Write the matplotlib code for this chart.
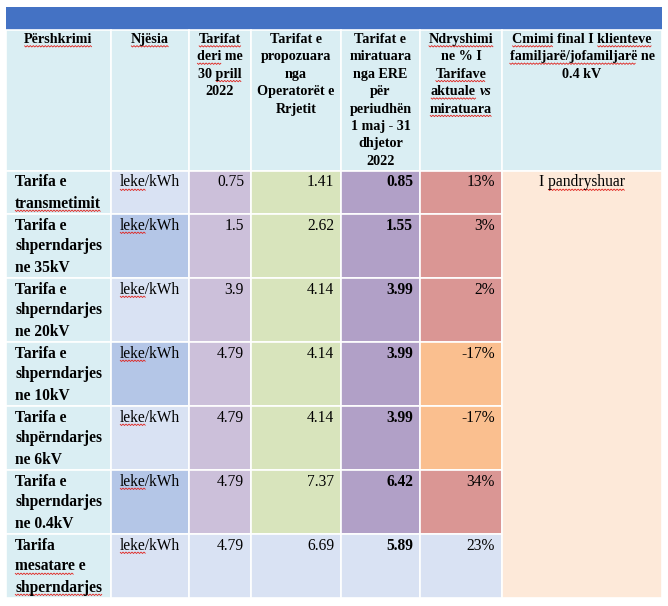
import matplotlib
matplotlib.use("Agg")
import matplotlib.pyplot as plt
from matplotlib.patches import Rectangle
from matplotlib.font_manager import FontProperties
import numpy as np

# ~word~ = spell-check squiggle, _word_ = italic
headers = [
    "~Përshkrimi~",
    "~Njësia~",
    "~Tarifat~\n~deri~ me\n30 ~prill~\n2022",
    "Tarifat e\npropozuara\nnga\nOperatorët e\nRrjetit",
    "Tarifat e\nmiratuara\nnga ERE\npër\nperiudhën\n1 maj - 31\ndhjetor\n2022",
    "~Ndryshimi~\nne % I\n~Tarifave~\n~aktuale~ _vs_\n~miratuara~",
    "~Cmimi~ final I ~klienteve~\n~familjarë/jofamiljarë~ ne\n0.4 kV",
]
descriptions = [
    "Tarifa e\n~transmetimit~",
    "Tarifa e\nshperndarjes\nne 35kV",
    "Tarifa e\nshperndarjes\nne 20kV",
    "Tarifa e\nshperndarjes\nne 10kV",
    "Tarifa e\nshpërndarjes\nne 6kV",
    "Tarifa e\nshperndarjes\nne 0.4kV",
    "Tarifa\n~mesatare~ e\n~shperndarjes~",
]
units = ["~leke~/kWh"] * 7
tarifa_deri_prill = [0.75, 1.5, 3.9, 4.79, 4.79, 4.79, 4.79]
tarifa_propozuar = [1.41, 2.62, 4.14, 4.14, 4.14, 7.37, 6.69]
tarifa_miratuar = [0.85, 1.55, 3.99, 3.99, 3.99, 6.42, 5.89]
ndryshimi = [13, 3, 2, -17, -17, 34, 23]
cmimi_final = "I ~pandryshuar~"

# layout (pixels)
W, H = 668, 606
col_x = [6, 111, 189, 251, 341, 420, 502, 662]
row_y = [30, 171, 214, 278, 342, 406, 470, 534, 598]
bar = (7, 29.5)

c_head = "#DAEEF3"
c_unit = ["#D9E2F3", "#B4C6E7"]
c_avg = "#D9E2F3"
c_old = "#CCC0DA"
c_prop = "#D8E4BC"
c_appr = "#B1A0C7"
c_up = "#DA9694"
c_down = "#FABF8F"
c_final = "#FDE9D9"

fig = plt.figure(figsize=(W / 100, H / 100), dpi=100)
ax = fig.add_axes([0, 0, 1, 1])
ax.set_xlim(0, W)
ax.set_ylim(H, 0)
ax.axis("off")
renderer = fig.canvas.get_renderer()

FAM = "Liberation Serif"


def fprop(size, bold, italic=False):
    return FontProperties(family=FAM, size=size, weight="bold" if bold else "normal",
                          style="italic" if italic else "normal")


def width(s, fp):
    if not s.strip():
        return 0.0
    return renderer.get_text_width_height_descent(s, fp, ismath=False)[0]


def offset_of(prefix, part, fp):
    # ink position of `part` when it follows `prefix` on the same line
    if not prefix:
        return 0.0
    return width(prefix + part, fp) - width(part, fp)


def wavy(a, b, y):
    xs = np.arange(a, b + 0.01, 1.5)
    ys = y + np.where(np.arange(len(xs)) % 2 == 0, 0.0, 1.4)
    ax.plot(xs, ys, color="#E0201B", lw=0.6, solid_capstyle="butt")


def put_line(x, y, line, ha, size, bold):
    fp = fprop(size, bold)
    tail = None
    words = line.split(" ")
    if words[-1].startswith("_") and words[-1].endswith("_"):
        tail = words[-1].strip("_")
        line = " ".join(words[:-1]) + " "
    clean, spans = "", []
    for k, p in enumerate(line.split("~")):
        if k % 2 == 1:
            spans.append((len(clean), p))
        clean += p
    total = width(clean, fp)
    if tail:
        fp_i = fprop(size, bold, True)
        tail_x = offset_of(clean, tail, fp)
        total = tail_x + width(tail, fp_i)
    x0 = {"left": x, "center": x - total / 2, "right": x - total}[ha]
    ax.text(x0, y, clean.rstrip(), ha="left", va="baseline", fontproperties=fp, color="black")
    if tail:
        ax.text(x0 + tail_x, y, tail, ha="left", va="baseline",
                fontproperties=fp_i, color="black")
    for start, part in spans:
        a = x0 + offset_of(clean[:start], part, fp)
        wavy(a, a + width(part, fp), y + 2.6)


def put_cell(x, y, text, ha, size, bold, step):
    for k, line in enumerate(text.split("\n")):
        put_line(x, y + k * step, line, ha, size, bold)


def cell(c, r0, r1, color):
    ax.add_patch(Rectangle((col_x[c], r0), col_x[c + 1] - col_x[c], r1 - r0,
                           facecolor=color, edgecolor="white", lw=1.2))


# blue title bar
ax.add_patch(Rectangle((col_x[0], bar[0]), col_x[-1] - col_x[0], bar[1] - bar[0],
                       facecolor="#4472C4", edgecolor="none"))

# header row
for c, txt in enumerate(headers):
    cell(c, row_y[0], row_y[1], c_head)
    put_cell((col_x[c] + col_x[c + 1]) / 2, row_y[0] + 13, txt, "center", 10.2, True, 17.4)

# data rows
n = len(descriptions)
for r in range(n):
    top, bot = row_y[r + 1], row_y[r + 2]
    avg = r == n - 1
    cell(0, top, bot, c_head)
    cell(1, top, bot, c_unit[r % 2])
    cell(2, top, bot, c_avg if avg else c_old)
    cell(3, top, bot, c_avg if avg else c_prop)
    cell(4, top, bot, c_avg if avg else c_appr)
    cell(5, top, bot, c_avg if avg else (c_up if ndryshimi[r] >= 0 else c_down))

    yb = top + 15.5
    put_cell(col_x[0] + 9, yb, descriptions[r], "left", 11.2, True, 21)
    put_cell(col_x[1] + 9, yb, units[r], "left", 11.2, False, 21)
    put_line(col_x[3] - 7, yb, str(tarifa_deri_prill[r]), "right", 11.2, False)
    put_line(col_x[4] - 7, yb, str(tarifa_propozuar[r]), "right", 11.2, False)
    put_line(col_x[5] - 7, yb, str(tarifa_miratuar[r]), "right", 11.2, True)
    put_line(col_x[6] - 7, yb, f"{ndryshimi[r]}%", "right", 11.2, False)

# merged final-price column
cell(6, row_y[1], row_y[-1], c_final)
put_line((col_x[6] + col_x[7]) / 2, row_y[1] + 15.5, cmimi_final, "center", 11.2, False)

fig.savefig("out.png", dpi=100, facecolor="white")
